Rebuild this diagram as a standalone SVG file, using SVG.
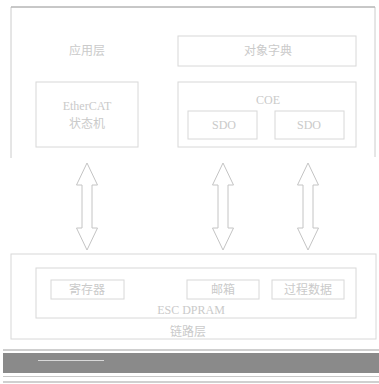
<svg xmlns="http://www.w3.org/2000/svg" width="379" height="384" viewBox="0 0 379 384">
<style>
.box{fill:none;stroke:#d8d8d8;stroke-width:1}
.t{font-family:"Liberation Serif","Noto Sans CJK SC",serif;font-size:12px;fill:#cacaca;text-anchor:middle}
.arr{fill:#fff;stroke:#c4c4c4;stroke-width:1}
</style>
<rect width="379" height="384" fill="#fff"/>
<g id="app-layer">
<path d="M11 158 V7 H375 V157" fill="none" stroke="#cccccc"/>
<line x1="11" y1="7" x2="375" y2="7" stroke="#aaaaaa"/>
<text class="t" x="87" y="55">应用层</text>
</g>
<g id="state-machine">
<rect class="box" x="36" y="82" width="102" height="65"/>
<text class="t" x="87" y="110">EtherCAT</text>
<text class="t" x="87" y="128">状态机</text>
</g>
<g id="object-dict">
<rect class="box" x="178" y="36" width="178" height="30"/>
<text class="t" x="268" y="55">对象字典</text>
</g>
<g id="coe">
<rect class="box" x="178" y="82" width="178" height="65"/>
<text class="t" x="268" y="104">COE</text>
</g>
<g id="sdo1">
<rect class="box" x="188" y="111" width="69" height="28"/>
<text class="t" x="224" y="129">SDO</text>
</g>
<g id="sdo2">
<rect class="box" x="275" y="111" width="69" height="28"/>
<text class="t" x="309" y="129">SDO</text>
</g>
<g id="connectors">
<path class="arr" d="M87 163 L97.5 185 H92 V228 H97.5 L87 250 L76.5 228 H82 V185 H76.5 Z"/>
<path class="arr" d="M223 163 L233.5 185 H228 V228 H233.5 L223 250 L212.5 228 H218 V185 H212.5 Z"/>
<path class="arr" d="M308 163 L318.5 185 H313 V228 H318.5 L308 250 L297.5 228 H303 V185 H297.5 Z"/>
</g>
<g id="link-layer">
<rect class="box" x="11" y="254" width="365" height="85"/>
<text class="t" x="188" y="336">链路层</text>
</g>
<g id="esc">
<rect class="box" x="36" y="268" width="320" height="50"/>
<text class="t" x="191" y="314">ESC DPRAM</text>
</g>
<g id="registers">
<rect class="box" x="51" y="280" width="73" height="19"/>
<text class="t" x="87" y="294">寄存器</text>
</g>
<g id="mailbox">
<rect class="box" x="187" y="280" width="72" height="19"/>
<text class="t" x="223" y="294">邮箱</text>
</g>
<g id="process-data">
<rect class="box" x="272" y="280" width="72" height="19"/>
<text class="t" x="308" y="294">过程数据</text>
</g>
<g id="bottom-band">
<rect x="3" y="349" width="376" height="2" fill="#cfcfcf"/>
<rect x="3" y="353" width="376" height="20" fill="#8a8a8a"/>
<rect x="38" y="360" width="66" height="1" fill="#d8d8d8"/>
<rect x="3" y="376" width="376" height="1" fill="#c8c8c8"/>
<rect x="3" y="381" width="376" height="2" fill="#d0d0d0"/>
</g>
</svg>
